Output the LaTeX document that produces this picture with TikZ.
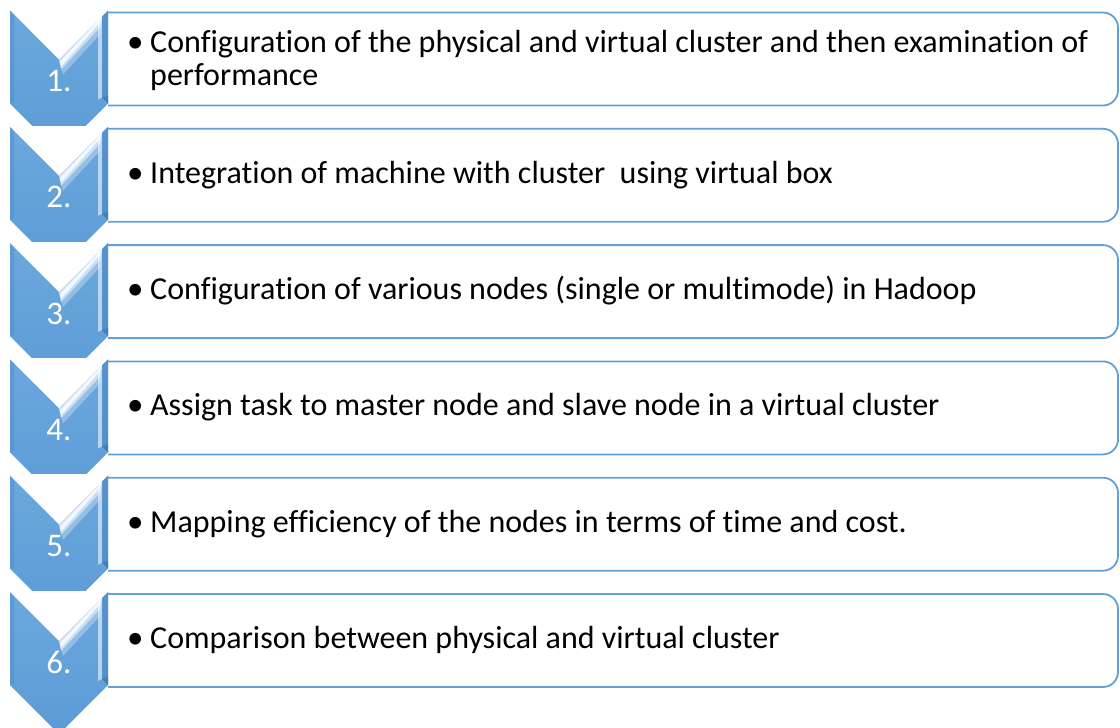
\documentclass[tikz,border=0pt]{standalone}
\usepackage{fontspec}
\setmainfont{Carlito}[Ligatures={NoCommon}]
\usetikzlibrary{calc}
\definecolor{chevblue}{RGB}{91,155,213}
\definecolor{chevlight}{RGB}{108,168,222}
\definecolor{chevdark}{RGB}{72,134,196}
\definecolor{boxline}{RGB}{98,160,216}
\tikzset{
  boxnode/.style={minimum width=1010pt, minimum height=93pt, inner sep=0pt, outer sep=0pt, draw=none},
  itemtext/.style={anchor=base west, inner sep=0pt, font=\fontsize{32}{33}\selectfont, text=black},
  bulletmark/.style={anchor=base west, inner sep=0pt, font=\fontsize{33}{33}\selectfont, text=black},
  numtext/.style={anchor=base, inner sep=0pt, font=\fontsize{33}{33}\selectfont, text=white},
  chevnode/.style={minimum width=98pt, minimum height=93pt, inner sep=0pt, outer sep=0pt, draw=none},
}
\newcommand{\twolines}[2]{\begin{tabular}[t]{@{}l@{}}#1\\#2\end{tabular}}
\begin{document}
\begin{tikzpicture}[x=1pt,y=-1pt]
\useasboundingbox (0,0) rectangle (1120,728);
\foreach \i/\bl/\txt in {1/-7/{\twolines{Configuration of the physical and virtual cluster and then examination of}{performance}},
                     2/8/{Integration of machine with cluster\ \ using virtual box},
                     3/8/{Configuration of various nodes (single or multimode) in Hadoop},
                     4/8/{Assign task to master node and slave node in a virtual cluster},
                     5/8/{Mapping efficiency of the nodes in terms of time and cost.},
                     6/8/{Comparison between physical and virtual cluster}} {
  \pgfmathsetmacro{\t}{12.5+116.3*(\i-1)}
  \pgfmathsetmacro{\ct}{\t-2}
  % box
  \node[boxnode, anchor=north west] (box\i) at (108,\t) {};
  \draw[boxline, line width=1.8pt, fill=white]
    (box\i.north west) [rounded corners=15pt] -- (box\i.north east) -- (box\i.south east)
    [sharp corners] -- (box\i.south west);
  \node[bulletmark] (bul\i) at ($(box\i.west)+(19,\bl)$) {•};
  \node[itemtext] (txt\i) at ($(box\i.west)+(42,\bl)$) {\txt};
  % chevron
  \node[chevnode, anchor=north west] (chev\i) at (10,\ct) {};
  \begin{scope}
    \ifnum\i<6
      \clip (0,\ct) rectangle (120,\ct+114.5);
    \fi
    \shade[top color=chevlight, bottom color=chevblue]
      (chev\i.north west) -- ($(chev\i.north)+(0,49)$) -- (chev\i.north east)
      -- (chev\i.south east) -- ($(chev\i.south)+(0,49)$) -- (chev\i.south west) -- cycle;
    % subtle darker left edge
    \fill[chevdark, opacity=0.35]
      (chev\i.north west) -- ($(chev\i.north west)+(4,4)$) -- ($(chev\i.south west)+(4,-2)$) -- (chev\i.south west) -- cycle;
    % highlight bevel on right arm of notch
    \fill[white, opacity=0.30]
      ($(chev\i.north)+(0,49)$) -- ($(chev\i.north east)+(-6,6)$) -- ($(chev\i.north east)+(-8,24)$) -- ($(chev\i.north)+(4,64)$) -- cycle;
    \fill[white, opacity=0.5]
      ($(chev\i.north)+(0,49)$) -- ($(chev\i.north east)+(-6,6)$) -- ($(chev\i.north east)+(-8,17)$) -- ($(chev\i.north)+(2,59)$) -- cycle;
    \fill[white, opacity=0.8]
      ($(chev\i.north)+(1,51)$) -- ($(chev\i.north east)+(-6,6)$) -- ($(chev\i.north east)+(-8,12)$) -- ($(chev\i.north)+(2,56)$) -- cycle;
    % right vertical bevel
    \fill[white, opacity=0.55]
      ($(chev\i.north east)+(-10,10)$) -- ($(chev\i.north east)+(-6,6)$) -- ($(chev\i.south east)+(-6,-6)$) -- ($(chev\i.south east)+(-10,-4)$) -- cycle;
    \fill[chevdark, opacity=0.6]
      ($(chev\i.north east)+(-6,6)$) -- (chev\i.north east) -- (chev\i.south east) -- ($(chev\i.south east)+(-6,-6)$) -- cycle;
    \fill[chevdark!80!black, opacity=0.5]
      ($(chev\i.south east)+(-6,-6)$) -- ($(chev\i.south east)+(0,-8)$) -- (chev\i.south east) -- cycle;
  \end{scope}
  \node[numtext] (num\i) at ($(chev\i.north)+(0,81)$) {\i.};
}
\end{tikzpicture}
\end{document}
